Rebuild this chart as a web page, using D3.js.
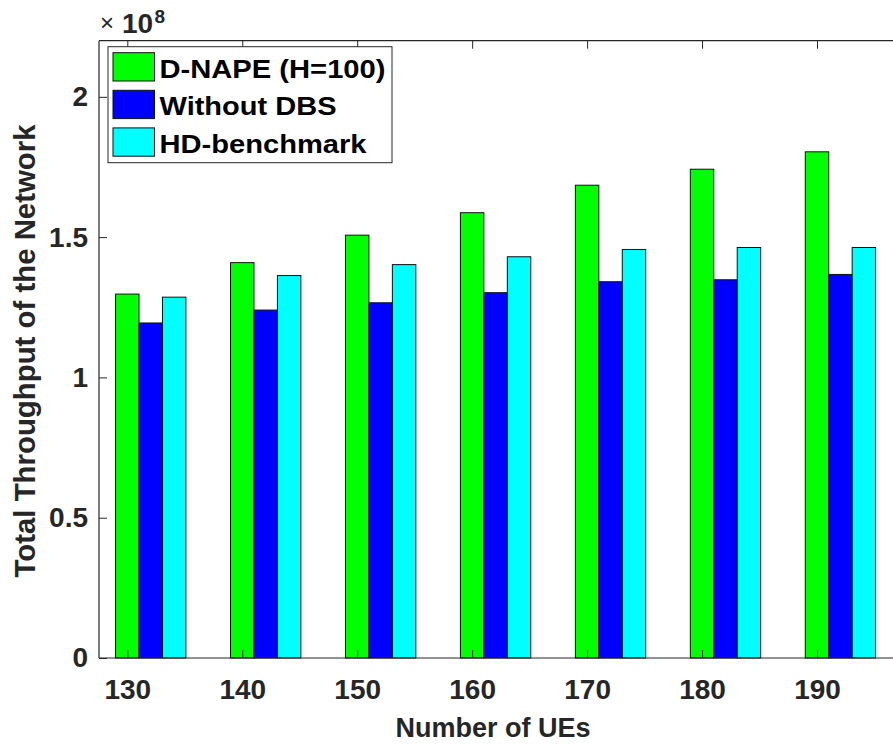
<!DOCTYPE html>
<html>
<head>
<meta charset="utf-8">
<script src="https://cdn.jsdelivr.net/npm/d3@7"></script>
<style>
  html, body { margin: 0; padding: 0; background: #fff; }
  svg { display: block; font-family: "Liberation Sans", Arial, Helvetica, sans-serif; }
</style>
</head>
<body>
<svg id="chart" width="893" height="747"></svg>
<script>
// ---- data ----
const categories = [130, 140, 150, 160, 170, 180, 190];
const seriesNames = ["D-NAPE (H=100)", "Without DBS", "HD-benchmark"];
const seriesColors = ["#00ff00", "#0000ff", "#00ffff"];
const dnape = [1.297, 1.409, 1.507, 1.587, 1.685, 1.742, 1.804];
const withoutDBS = [1.194, 1.240, 1.266, 1.302, 1.341, 1.348, 1.367];
const hdBenchmark = [1.286, 1.363, 1.402, 1.430, 1.456, 1.463, 1.463];
const yTicks = [0, 0.5, 1, 1.5, 2];
const yTickLabels = ["0", "0.5", "1", "1.5", "2"];
const xLabel = "Number of UEs";
const yLabel = "Total Throughput of the Network";

const series = [dnape, withoutDBS, hdBenchmark];

// ---- layout ----
const svg = d3.select("#chart");
const pLeft = 99, pTop = 40.7, pBottom = 658, pRight = 900;
const textColor = "#262626";

const x = d3.scaleLinear().domain([130, 190]).range([127.3, 817]);
const y = d3.scaleLinear().domain([0, 2.2]).range([pBottom, pTop]);
const barW = x(130 + 2.04) - x(130);

// bars
series.forEach((vals, si) => {
  svg.append("g").selectAll("rect")
    .data(vals)
    .join("rect")
    .attr("x", (d, i) => x(categories[i]) - barW / 2 + si * barW)
    .attr("y", d => y(d))
    .attr("width", barW)
    .attr("height", d => y(0) - y(d))
    .attr("fill", seriesColors[si])
    .attr("stroke", "#111")
    .attr("stroke-width", 1);
});

// axes box
svg.append("line").attr("x1", pLeft).attr("x2", pRight).attr("y1", pBottom).attr("y2", pBottom)
  .attr("stroke", textColor).attr("stroke-width", 1.2);
svg.append("line").attr("x1", pLeft).attr("x2", pRight).attr("y1", pTop).attr("y2", pTop)
  .attr("stroke", textColor).attr("stroke-width", 1.2);
svg.append("line").attr("x1", pLeft).attr("x2", pLeft).attr("y1", pTop).attr("y2", pBottom)
  .attr("stroke", textColor).attr("stroke-width", 1.2);

// x axis (bottom) via d3 axis
const xAxis = d3.axisBottom(x).tickValues(categories).tickSize(-8).tickPadding(14)
  .tickFormat(d3.format("d"));
const gx = svg.append("g").attr("transform", `translate(0,${pBottom})`).call(xAxis);
gx.select(".domain").remove();
gx.selectAll(".tick line").attr("stroke", textColor);
gx.selectAll(".tick text").attr("fill", textColor).attr("font-size", 28)
  .attr("font-weight", "bold").attr("font-family", "Liberation Sans, Arial, sans-serif")
  .attr("y", 21).attr("dy", "0.71em");

// top ticks
const xTop = d3.axisTop(x).tickValues(categories).tickSize(-8).tickFormat("");
const gxt = svg.append("g").attr("transform", `translate(0,${pTop})`).call(xTop);
gxt.select(".domain").remove();
gxt.selectAll(".tick line").attr("stroke", textColor);

// y axis
const yAxis = d3.axisLeft(y).tickValues(yTicks).tickSize(-8).tickPadding(11)
  .tickFormat((d, i) => yTickLabels[i]);
const gy = svg.append("g").attr("transform", `translate(${pLeft},0)`).call(yAxis);
gy.select(".domain").remove();
gy.selectAll(".tick line").attr("stroke", textColor);
gy.selectAll(".tick text").attr("fill", textColor).attr("font-size", 28)
  .attr("font-weight", "bold").attr("font-family", "Liberation Sans, Arial, sans-serif")
  .attr("x", -11);

// exponent label (x10^8)
svg.append("text").attr("x", 100).attr("y", 31).attr("fill", textColor)
  .attr("font-size", 24).attr("font-weight", "normal").text("\u00d7");
svg.append("text").attr("x", 122).attr("y", 33).attr("fill", textColor)
  .attr("font-size", 28).attr("font-weight", "bold").text("10");
svg.append("text").attr("x", 154.5).attr("y", 23).attr("fill", textColor)
  .attr("font-size", 19).attr("font-weight", "bold").text("8");

// axis labels
svg.append("text").attr("x", 493).attr("y", 737).attr("text-anchor", "middle")
  .attr("font-size", 27).attr("font-weight", "bold").attr("fill", textColor).text(xLabel);
svg.append("text").attr("transform", "translate(35,351) rotate(-90)").attr("text-anchor", "middle")
  .attr("font-size", 29).attr("font-weight", "bold").attr("fill", textColor)
  .attr("textLength", 453).attr("lengthAdjust", "spacingAndGlyphs").text(yLabel);

// legend
const lg = svg.append("g");
lg.append("rect").attr("x", 108).attr("y", 46.7).attr("width", 284).attr("height", 116)
  .attr("fill", "#fff").attr("stroke", textColor).attr("stroke-width", 1);
const rowY = [52.7, 90.3, 127.9];
const textW = [226, 177, 207];
seriesNames.forEach((name, i) => {
  lg.append("rect").attr("x", 113).attr("y", rowY[i]).attr("width", 41.5).attr("height", 28.3)
    .attr("fill", seriesColors[i]).attr("stroke", "#111").attr("stroke-width", 1);
  lg.append("text").attr("x", 159.5).attr("y", rowY[i] + 25)
    .attr("font-size", 25).attr("font-weight", "bold").attr("fill", "#000")
    .attr("textLength", textW[i]).attr("lengthAdjust", "spacingAndGlyphs")
    .text(name);
});
</script>
</body>
</html>
